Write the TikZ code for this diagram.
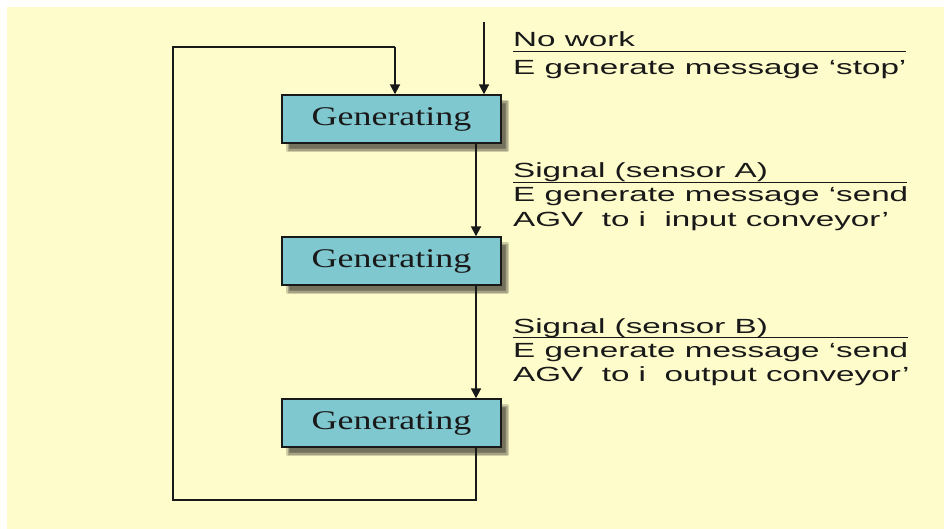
\documentclass[tikz,border=0pt]{standalone}
\usepackage{fontspec}
\usepackage{tikz}
\usetikzlibrary{arrows.meta, positioning, shadows.blur}
\newfontfamily\labfont[FakeStretch=1.62]{Liberation Sans}
\newfontfamily\boxfont[FakeStretch=1.33]{Liberation Serif}
\definecolor{paper}{RGB}{255,252,204}
\definecolor{stateblue}{RGB}{128,200,208}
\definecolor{ink}{RGB}{25,25,25}

\tikzset{
  genbox/.style={draw=ink, line width=1.4pt, fill=stateblue, minimum width=219pt,
    minimum height=48pt, inner sep=0pt,
    font=\boxfont\fontsize{27}{28}\selectfont, text=ink,
    blur shadow={shadow xshift=6pt, shadow yshift=-7pt, shadow blur steps=6, shadow opacity=55}},
  lab/.style={anchor=base west, inner sep=0pt, text=ink,
    font=\labfont\fontsize{20.5}{24}\selectfont},
  flow/.style={draw=ink, line width=1.9pt, -{Triangle[length=10pt,width=10pt]}},
  loop/.style={draw=ink, line width=1.3pt}
}

\begin{document}
\begin{tikzpicture}[x=1pt, y=-1pt]
  \useasboundingbox (0,0) rectangle (944,529);
  \fill[paper] (7,7) rectangle (944,529);

  % states
  \node[genbox] (gen1) at (391.5,119) {Generating};
  \node[genbox] (gen2) at (391.5,261) {Generating};
  \node[genbox] (gen3) at (391.5,423) {Generating};

  % transitions
  \coordinate (entry) at (484,22);
  \coordinate (trunk) at (476,0);
  \coordinate (back) at (395,47);
  \draw[flow] (entry) -- (gen1.north -| entry);
  \draw[flow] (gen1.south -| trunk) -- (gen2.north -| trunk);
  \draw[flow] (gen2.south -| trunk) -- (gen3.north -| trunk);
  \draw[loop] (gen3.south -| trunk) -- (476,500) -- (173,500) -- (173,47) -- (back);
  \draw[flow] (back) -- (gen1.north -| back);

  % labels
  \node[lab] (nowork) at (513,47) {No work};
  \draw[ink, line width=0.9pt] (nowork.base west) ++(0,4) -- ++(393,0);
  \node[lab] (stopmsg) at (513,75) {E generate message ‘stop’};

  \node[lab] (sigA) at (513,178) {Signal (sensor A)};
  \draw[ink, line width=0.9pt] (sigA.base west) ++(0,4) -- ++(394,0);
  \node[lab] (msgA1) at (513,202) {E generate message ‘send};
  \node[lab] (msgA2) at (513,226) {AGV\ \ to i\ \ input conveyor’};

  \node[lab] (sigB) at (513,333) {Signal (sensor B)};
  \draw[ink, line width=0.9pt] (sigB.base west) ++(0,4) -- ++(395,0);
  \node[lab] (msgB1) at (513,357) {E generate message ‘send};
  \node[lab] (msgB2) at (513,381) {AGV\ \ to i\ \ output conveyor’};
\end{tikzpicture}
\end{document}
